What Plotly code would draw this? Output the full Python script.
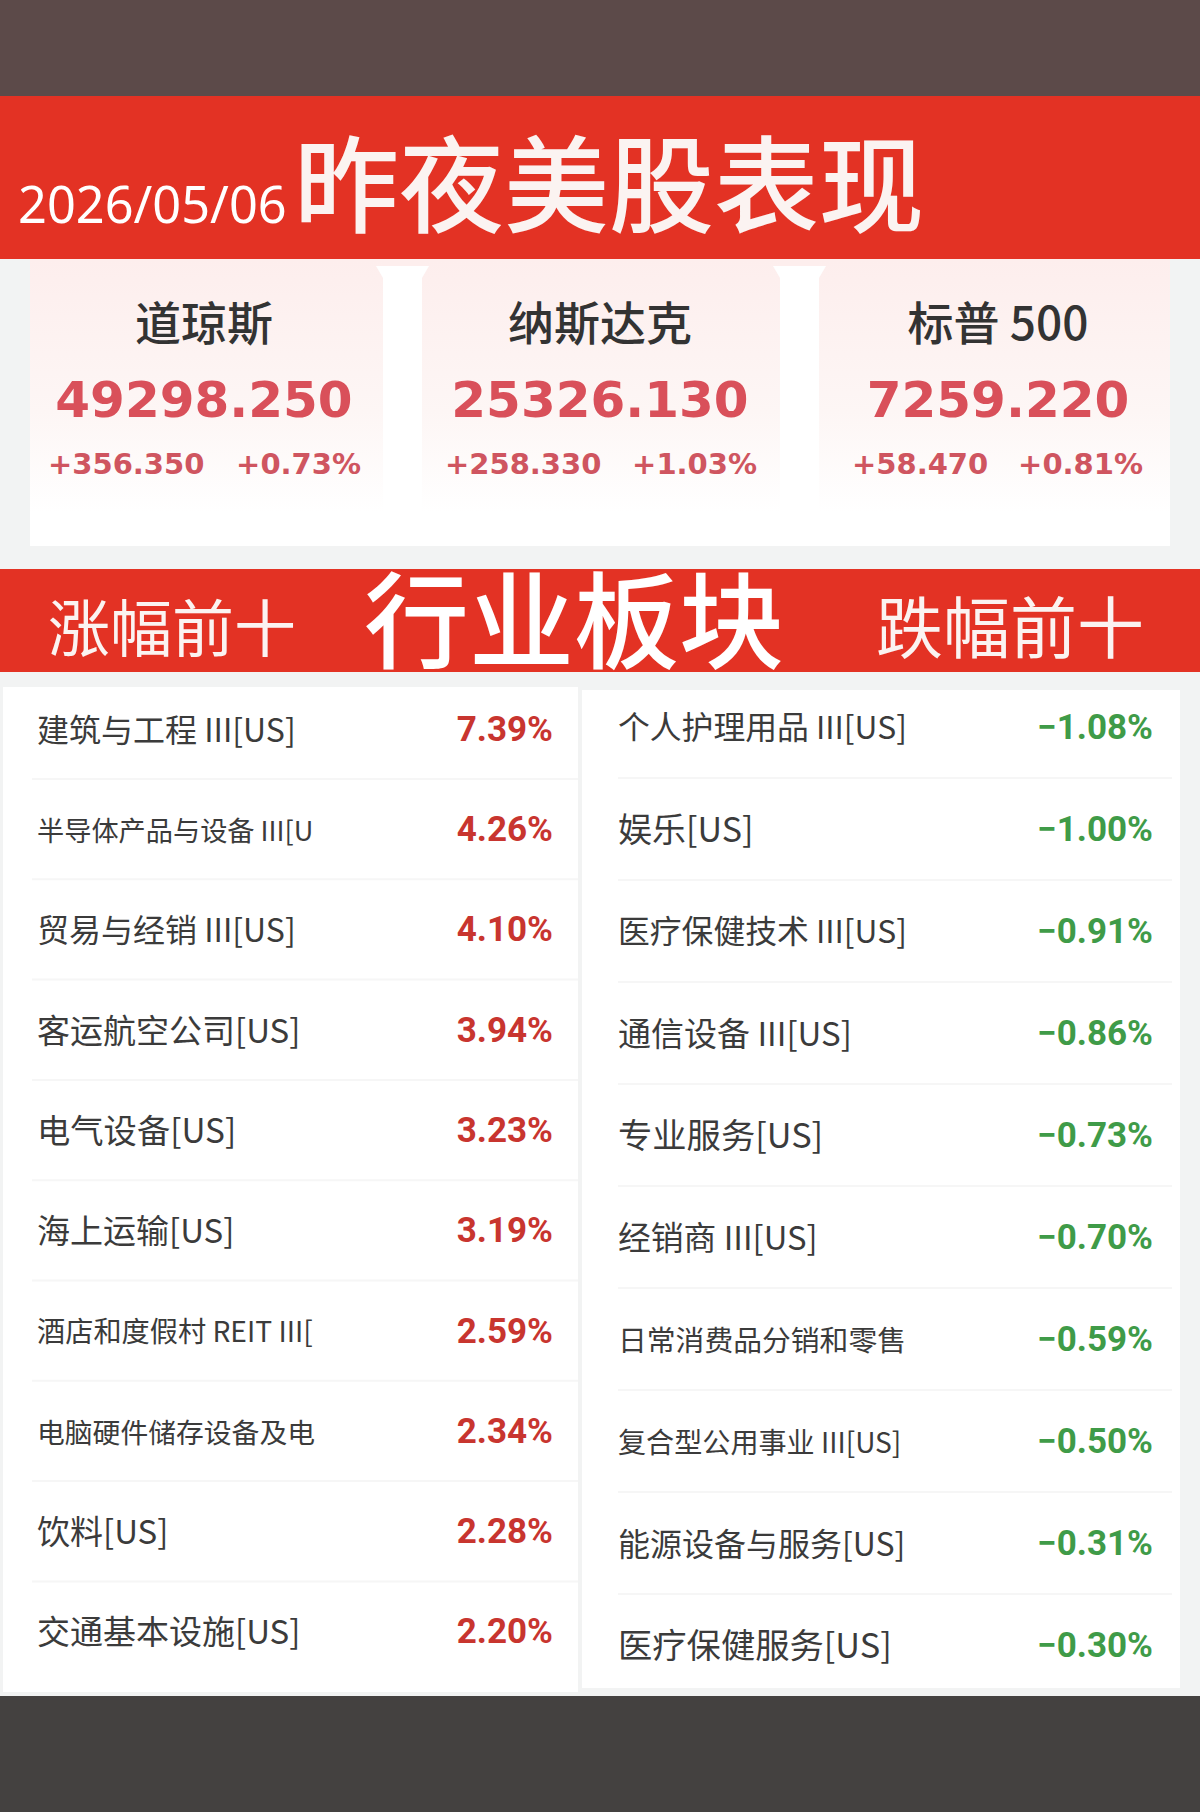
#!/usr/bin/env python3
"""昨夜美股表现 poster: index cards plus top/bottom ten sector tables."""

import plotly.graph_objects as go

# ── Data ────────────────────────────────────────────────────────────── #

date_label = "2026/05/06"
main_title = "昨夜美股表现"
section_title = "行业板块"
gain_title = "涨幅前十"
loss_title = "跌幅前十"

index_names = ["道琼斯", "纳斯达克", "标普 500"]
index_values = ["49298.250", "25326.130", "7259.220"]
index_changes = ["+356.350", "+258.330", "+58.470"]
index_pcts = ["+0.73%", "+1.03%", "+0.81%"]

gain_names = [
    "建筑与工程 III[US]", "半导体产品与设备 III[U", "贸易与经销 III[US]",
    "客运航空公司[US]", "电气设备[US]", "海上运输[US]",
    "酒店和度假村 REIT III[", "电脑硬件储存设备及电", "饮料[US]",
    "交通基本设施[US]",
]
gain_pcts = ["7.39%", "4.26%", "4.10%", "3.94%", "3.23%",
             "3.19%", "2.59%", "2.34%", "2.28%", "2.20%"]

loss_names = [
    "个人护理用品 III[US]", "娱乐[US]", "医疗保健技术 III[US]",
    "通信设备 III[US]", "专业服务[US]", "经销商 III[US]",
    "日常消费品分销和零售", "复合型公用事业 III[US]", "能源设备与服务[US]",
    "医疗保健服务[US]",
]
loss_pcts = ["−1.08%", "−1.00%", "−0.91%", "−0.86%", "−0.73%",
             "−0.70%", "−0.59%", "−0.50%", "−0.31%", "−0.30%"]

# ── Styles ──────────────────────────────────────────────────────────── #

W, H = 1200, 1812
CJK = "Noto Sans CJK SC"
RED = "#e33224"
TEXT = "#3b3b3b"
UP = "#c8352f"
DOWN = "#3f9b48"
DIVIDER = "#f6f6f6"
CARD_TOP = "#fdeeed"

gain_sizes = [32, 27.2, 32, 33, 33.3, 33, 28.2, 27.8, 33, 33]
loss_sizes = [31.8, 34, 31.8, 33, 34.3, 32.8, 28.8, 28.1, 32, 34.3]

card_lefts = [30, 422, 819]
card_rights = [383, 780, 1170]
card_centers = [204, 600, 998]
change_x = [48, 445, 852]
pct_right = [361, 757, 1143]
gap_lefts = [383, 780]
gap_rights = [422, 819]

gain_y0, gain_step = 729, 100.3
loss_y0, loss_step = 727, 102.0
label_dy, pct_dy = 4.5, 3


def rect(x0, y0, x1, y1, color):
    return dict(type="rect", x0=x0, y0=y0, x1=x1, y1=y1, layer="below",
                fillcolor=color, line_width=0)


def line(x0, x1, y):
    return dict(type="line", x0=x0, x1=x1, y0=y, y1=y, layer="below",
                line=dict(color=DIVIDER, width=2))


def text_trace(x, y, text, size, color, pos, family=CJK, weight="normal"):
    return go.Scatter(
        x=x, y=y, text=text, mode="text", textposition=pos,
        textfont=dict(family=family, size=size, color=color, weight=weight),
        hoverinfo="skip", showlegend=False, cliponaxis=False,
    )


fig = go.Figure()

# ── Card gradients ──────────────────────────────────────────────────── #

for left, right in zip(card_lefts, card_rights):
    fig.add_trace(go.Scatter(
        x=[left, right, right, left, left],
        y=[260, 260, 512, 512, 260],
        mode="lines", fill="toself", line_width=0,
        fillgradient=dict(type="vertical", colorscale=[
            [0, "#ffffff"], [0.4, "#fdf6f5"], [1, CARD_TOP]]),
        hoverinfo="skip", showlegend=False,
    ))

# ── Text ────────────────────────────────────────────────────────────── #

fig.add_trace(text_trace([18], [210], [date_label], 50.5, "white",
                         "middle right", family="Noto Sans"))
fig.add_trace(text_trace([609], [198], [main_title], 105, "#fbf3f1",
                         "middle center", weight=500))

fig.add_trace(text_trace(card_centers, [328] * 3, index_names, 46, "#333333",
                         "middle center", weight=500))
fig.add_trace(text_trace(card_centers, [404] * 3, index_values, 50, "#d9505a",
                         "middle center", family="DejaVu Sans", weight="bold"))
fig.add_trace(text_trace(change_x, [467] * 3, index_changes, 29, "#cf5560",
                         "middle right", family="DejaVu Sans", weight="bold"))
fig.add_trace(text_trace(pct_right, [467] * 3, index_pcts, 29, "#cf5560",
                         "middle left", family="DejaVu Sans", weight="bold"))

fig.add_trace(text_trace([574], [634], [section_title], 105, "white",
                         "middle center", weight=500))
fig.add_trace(text_trace([172], [636], [gain_title], 62, "#fbf3f1",
                         "middle center"))
fig.add_trace(text_trace([1010], [636], [loss_title], 67, "#fbf3f1",
                         "middle center"))

gain_y = [gain_y0 + i * gain_step for i in range(len(gain_names))]
loss_y = [loss_y0 + i * loss_step for i in range(len(loss_names))]

fig.add_trace(text_trace([37] * 10, [y + label_dy for y in gain_y], gain_names,
                         gain_sizes, TEXT, "middle right"))
fig.add_trace(text_trace([553] * 10, [y + pct_dy for y in gain_y], gain_pcts,
                         35, UP, "middle left", family="Roboto", weight="bold"))
fig.add_trace(text_trace([618] * 10, [y + label_dy for y in loss_y], loss_names,
                         loss_sizes, TEXT, "middle right"))
fig.add_trace(text_trace([1153] * 10, [y + pct_dy for y in loss_y], loss_pcts,
                         35, DOWN, "middle left", family="Roboto", weight="bold"))

# ── Layout ──────────────────────────────────────────────────────────── #

shapes = [
    rect(0, 0, W, 96, "#5c4a49"),
    rect(0, 96, W, 259, RED),
    rect(0, 259, W, 1696, "#f2f3f3"),
    rect(30, 259, 1170, 546, "#ffffff"),
    rect(30, 259, 1170, 266, CARD_TOP),
    rect(0, 569, W, 672, RED),
    rect(3, 687, 578, 1692, "#ffffff"),
    rect(582, 690, 1180, 1688, "#ffffff"),
    rect(0, 1696, W, H, "#444140"),
]
shapes += [line(32, 578, gain_y0 + 50 + i * gain_step) for i in range(9)]
shapes += [line(618, 1172, loss_y0 + 51 + i * loss_step) for i in range(9)]

# white flared caps on the gaps between the cards
for left, right in zip(gap_lefts, gap_rights):
    shapes.append(dict(
        type="path", layer="above", fillcolor="#ffffff", line_width=0,
        path=f"M {left - 7} 266 L {right + 7} 266 L {right} 278 L {left} 278 Z",
    ))

fig.update_xaxes(range=[0, W], visible=False, fixedrange=True)
fig.update_yaxes(range=[H, 0], visible=False, fixedrange=True)
fig.update_layout(
    width=W, height=H,
    margin=dict(l=0, r=0, t=0, b=0, pad=0),
    paper_bgcolor="#f2f3f3", plot_bgcolor="#f2f3f3",
    showlegend=False, shapes=shapes,
)

fig.write_html("out.html", config=dict(displayModeBar=False),
               post_script="document.body.style.margin = '0';")
